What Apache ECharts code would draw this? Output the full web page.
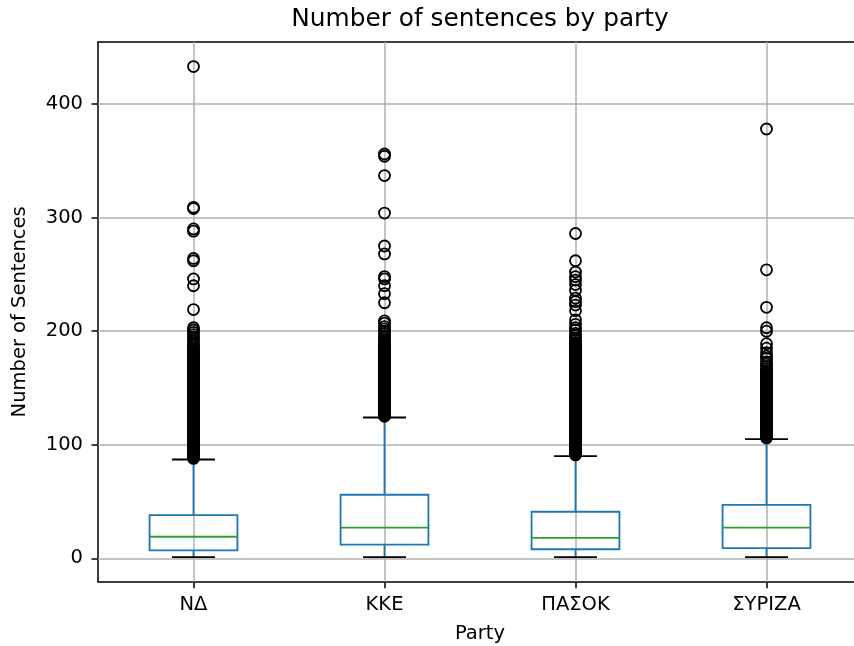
<!DOCTYPE html>
<html><head><meta charset="utf-8">
<script src="https://cdn.jsdelivr.net/npm/echarts@6/dist/echarts.min.js"></script>
<style>html,body{margin:0;padding:0;background:#fff}#c{width:854px;height:646px}</style>
</head><body><div id="c"></div>
<script>
const parties = ['ΝΔ', 'ΚΚΕ', 'ΠΑΣΟΚ', 'ΣΥΡΙΖΑ'];
const whiskerLow = [1, 1, 1, 1];
const q1 = [7, 12, 8, 9];
const median = [19, 27, 18, 27];
const q3 = [38, 56, 41, 47];
const whiskerHigh = [87, 124, 90, 105];
const yTicks = [0, 100, 200, 300, 400];

const outliersND = [88,89,90,91,92,93,94,95,96,97,98,99,100,101,102,103,104,105,106,107,108,109,110,111,112,113,114,115,116,117,118,119,120,121,122,123,124,125,126,127,128,129,130,131,132,133,134,135,136,137,138,139,140,141,142,143,144,145,146,147,148,149,150,151,152,153,154,155,156,157,158,159,160,161,162,163,164,165,166,167,168,169,170,171,172,173,174,175,176,177,178,179,180,181,182,183,184,185,187,189,191,193,195,197,199,201,203,219,240,246,262,264,288,290,308,309,433];
const outliersKKE = [125,126,127,128,129,130,131,132,133,134,135,136,137,138,139,140,141,142,143,144,145,146,147,148,149,150,151,152,153,154,155,156,157,158,159,160,161,162,163,164,165,166,167,168,169,170,171,172,173,174,175,176,177,178,179,180,181,182,183,184,185,186,187,188,189,190,192,194,196,198,200,202,204,207,209,225,233,240,246,248,268,275,304,337,354,356];
const outliersPASOK = [91,92,93,94,95,96,97,98,99,100,101,102,103,104,105,106,107,108,109,110,111,112,113,114,115,116,117,118,119,120,121,122,123,124,125,126,127,128,129,130,131,132,133,134,135,136,137,138,139,140,141,142,143,144,145,146,147,148,149,150,151,152,153,154,155,156,157,158,159,160,161,162,163,164,165,166,167,168,169,170,171,172,173,174,175,176,177,178,179,180,181,182,183,184,185,186,187,188,189,190,192,194,196,198,201,203,206,210,218,223,226,229,236,241,245,248,252,262,286];
const outliersSYRIZA = [106,107,108,109,110,111,112,113,114,115,116,117,118,119,120,121,122,123,124,125,126,127,128,129,130,131,132,133,134,135,136,137,138,139,140,141,142,143,144,145,146,147,148,149,150,151,152,153,154,155,156,157,158,159,160,161,162,163,164,165,167,169,171,173,176,178,181,185,189,200,203,221,254,378];

const outlierLists = [outliersND, outliersKKE, outliersPASOK, outliersSYRIZA];
const boxData = parties.map((p, i) => [i, whiskerLow[i], q1[i], median[i], q3[i], whiskerHigh[i]]);
const flierData = [];
outlierLists.forEach((list, i) => list.forEach(v => flierData.push([i, v])));

const FONT = 'DejaVu Sans';
const FS = 19.5;
const LW = 1.85;
const chart = echarts.init(document.getElementById('c'), null, {renderer: 'canvas'});
chart.setOption({
  animation: false,
  backgroundColor: '#fff',
  graphic: [{
    type: 'text', x: 480, y: 20, z: 10,
    style: {text: 'Number of sentences by party', fontFamily: FONT, fontSize: 24.8, fill: '#000',
      textAlign: 'center', textVerticalAlign: 'middle'}
  }],
  grid: {left: 98, top: 42, width: 764, bottom: 64.3, outerBoundsMode: 'none', show: false, containLabel: false},
  xAxis: [{
    type: 'category', data: parties, boundaryGap: true,
    axisLine: {show: true, onZero: false, lineStyle: {color: '#000', width: 1.5}},
    axisTick: {show: true, alignWithLabel: true, length: 6.5, lineStyle: {color: '#000', width: 1.5}},
    axisLabel: {fontFamily: FONT, fontSize: FS, color: '#000', margin: 13},
    splitLine: {show: false},
    name: 'Party', nameLocation: 'middle', nameGap: 42,
    nameTextStyle: {fontFamily: FONT, fontSize: FS, color: '#000'}
  }, {
    type: 'category', data: parties, position: 'top', boundaryGap: true,
    axisLine: {show: true, onZero: false, lineStyle: {color: '#000', width: 1.5}},
    axisTick: {show: false}, axisLabel: {show: false}, splitLine: {show: false}
  }],
  yAxis: {
    type: 'value', min: -20.6, max: 454.6,
    axisLine: {show: true, onZero: false, lineStyle: {color: '#000', width: 1.5}},
    axisTick: {show: true, length: 6.5, customValues: yTicks, lineStyle: {color: '#000', width: 1.5}},
    axisLabel: {customValues: yTicks, fontFamily: FONT, fontSize: FS, color: '#000', margin: 15},
    splitLine: {show: false},
    name: 'Number of Sentences', nameLocation: 'middle', nameGap: 68,
    nameTextStyle: {fontFamily: FONT, fontSize: FS, color: '#000'}
  },
  series: [
    {
      type: 'line', data: [], z: 1, silent: true,
      markLine: {
        silent: true, symbol: 'none', label: {show: false}, animation: false, z: 1,
        lineStyle: {color: '#b0b0b0', width: 1.5, type: 'solid'},
        emphasis: {disabled: true},
        data: yTicks.map(v => ({yAxis: v})).concat(parties.map(p => ({xAxis: p})))
      }
    },
    {
      type: 'custom', z: 6, data: boxData, encode: {x: 0, y: [1, 2, 3, 4, 5]},
      renderItem: function (params, api) {
        const i = api.value(0);
        const band = api.size([1, 0])[0];
        const bw = band * 0.46, cw = band * 0.225;
        const cx = api.coord([i, 0])[0];
        const y = v => api.coord([i, v])[1];
        const lo = y(api.value(1)), b1 = y(api.value(2)), md = y(api.value(3)), b3 = y(api.value(4)), hi = y(api.value(5));
        const blue = '#1f77b4', green = '#2ca02c';
        return {type: 'group', children: [
          {type: 'line', shape: {x1: cx, y1: b3, x2: cx, y2: hi}, style: {stroke: blue, lineWidth: LW}},
          {type: 'line', shape: {x1: cx, y1: b1, x2: cx, y2: lo}, style: {stroke: blue, lineWidth: LW}},
          {type: 'rect', shape: {x: cx - bw / 2, y: b3, width: bw, height: b1 - b3}, style: {fill: 'none', stroke: blue, lineWidth: LW}},
          {type: 'line', shape: {x1: cx - bw / 2, y1: md, x2: cx + bw / 2, y2: md}, style: {stroke: green, lineWidth: LW}},
          {type: 'line', shape: {x1: cx - cw / 2, y1: hi, x2: cx + cw / 2, y2: hi}, style: {stroke: '#000', lineWidth: LW}},
          {type: 'line', shape: {x1: cx - cw / 2, y1: lo, x2: cx + cw / 2, y2: lo}, style: {stroke: '#000', lineWidth: LW}}
        ]};
      }
    },
    {
      type: 'scatter', z: 7, data: flierData, symbol: 'circle', symbolSize: 11,
      itemStyle: {color: 'rgba(0,0,0,0)', borderColor: '#000', borderWidth: 1.8, opacity: 1},
      emphasis: {disabled: true}
    }
  ]
});
</script></body></html>
